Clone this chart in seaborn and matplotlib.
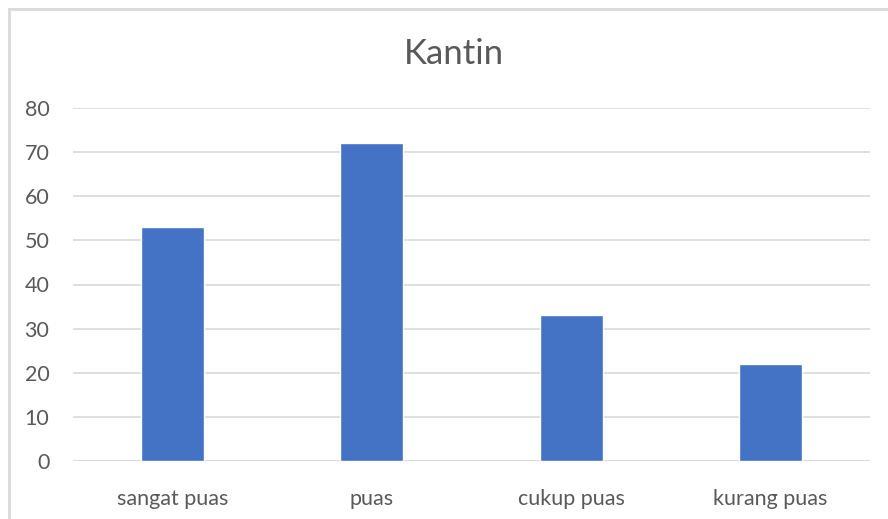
import matplotlib
matplotlib.use("Agg")
import matplotlib.pyplot as plt
import seaborn as sns
import pandas as pd
from matplotlib.patches import Rectangle

categories = ["sangat puas", "puas", "cukup puas", "kurang puas"]
values = [53, 72, 33, 22]
yticks = [0, 10, 20, 30, 40, 50, 60, 70, 80]
title = "Kantin"

sns.set_theme(style="white")
plt.rcParams['font.family'] = ['Lato', 'DejaVu Sans']

df = pd.DataFrame({"cat": categories, "val": values})

fig = plt.figure(figsize=(8.88, 5.19), dpi=100)
ax = fig.add_axes([73/888, 1-461/519, (870-73)/888, (461-108)/519])

sns.barplot(data=df, x="cat", y="val", color="#4472C4", width=0.315,
            saturation=1, ax=ax, zorder=3)

ax.set_ylim(0, 80)
ax.set_xlim(-0.5, len(categories)-0.5)
ax.set_yticks(yticks)
ax.yaxis.grid(True, color="#D9D9D9", linewidth=1.2, zorder=0)
ax.set_axisbelow(True)
for s in ["top", "right", "left", "bottom"]:
    ax.spines[s].set_visible(False)
ax.axhline(0, color="#D9D9D9", linewidth=1.2, zorder=1)
ax.set_xlabel("")
ax.set_ylabel("")
ax.tick_params(axis="both", length=0, labelsize=15.5, colors="#595959")
ax.tick_params(axis="y", pad=17)
ax.tick_params(axis="x", pad=20)

fig.text(454/888, 1-54/519, title, ha="center", va="center", fontsize=25, color="#595959")

fig.patches.append(Rectangle((9/888, -0.1), 1.2, 1-9/519+0.1, transform=fig.transFigure,
                             fill=False, edgecolor="#D9D9D9", linewidth=2))

fig.savefig("out.png", dpi=100)
